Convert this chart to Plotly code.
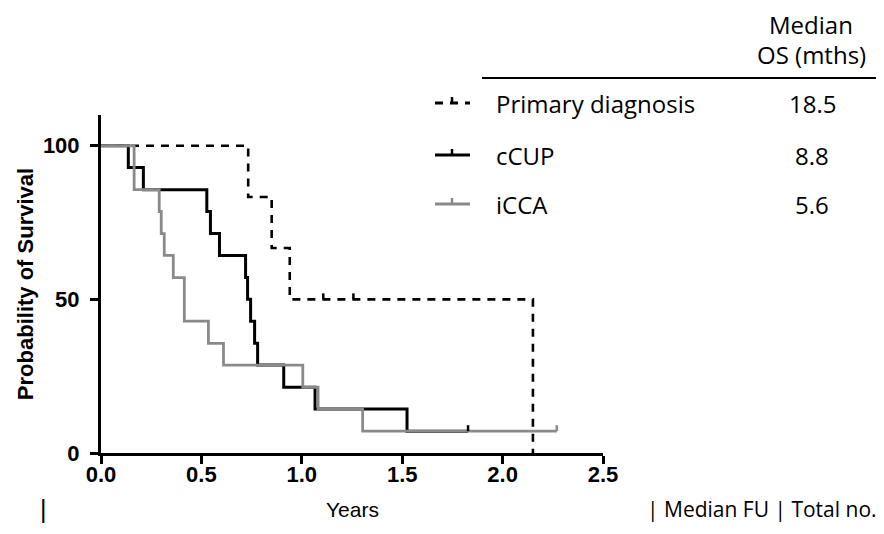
import plotly.graph_objects as go

# ---- data ----
years_ticks = [0.0, 0.5, 1.0, 1.5, 2.0, 2.5]
surv_ticks = [0, 50, 100]

primary_times = [0.0, 0.733, 0.85, 0.94, 2.151]
primary_surv = [100, 83.3, 66.7, 50.0, 0.0]
primary_censor_t = [1.107, 1.257]
primary_censor_s = [50.0, 50.0]

ccup_times = [0.0, 0.136, 0.211, 0.527, 0.545, 0.59, 0.72, 0.73, 0.745, 0.765, 0.78, 0.91, 1.066, 1.524, 1.828]
ccup_surv = [100, 92.9, 85.7, 78.6, 71.4, 64.3, 57.1, 50.0, 42.9, 35.7, 28.6, 21.4, 14.3, 7.1, 7.1]
ccup_censor_t = [1.828]
ccup_censor_s = [7.1]

icca_times = [0.0, 0.165, 0.29, 0.30, 0.315, 0.36, 0.415, 0.535, 0.61, 1.005, 1.081, 1.303, 2.27]
icca_surv = [100, 85.7, 78.6, 71.4, 64.3, 57.1, 42.9, 35.7, 28.6, 21.4, 14.3, 7.1, 7.1]
icca_censor_t = [2.27]
icca_censor_s = [7.1]

group_names = ["Primary diagnosis", "cCUP", "iCCA"]
median_os = ["18.5", "8.8", "5.6"]

BLACK = "#000000"
GREY = "#8a8a8a"
DASH = "8px,7px"

# page offset (default body margin) compensated
OFF = 8
# plot-area pixel geometry in page coordinates of the reference
L, R, T, B = 101, 603, 115, 453
W, H = 884 - OFF, 534 - OFF


def px(x):
    return (x - L) / (R - L)


def py(y):
    return (B - y) / (B - T)


fig = go.Figure()

fig.add_trace(go.Scatter(x=primary_times, y=primary_surv, mode="lines", line_shape="hv",
                         line=dict(color=BLACK, width=2.6, dash=DASH), name=group_names[0]))
fig.add_trace(go.Scatter(x=ccup_times, y=ccup_surv, mode="lines", line_shape="hv",
                         line=dict(color=BLACK, width=3), name=group_names[1]))
fig.add_trace(go.Scatter(x=icca_times, y=icca_surv, mode="lines", line_shape="hv",
                         line=dict(color=GREY, width=2.8), name=group_names[2]))

shapes = []
for ts, ss, col in [(primary_censor_t, primary_censor_s, BLACK),
                    (ccup_censor_t, ccup_censor_s, BLACK),
                    (icca_censor_t, icca_censor_s, GREY)]:
    for t, s in zip(ts, ss):
        shapes.append(dict(type="line", xref="x", yref="y", x0=t, x1=t,
                           ysizemode="pixel", yanchor=s, y0=0, y1=6,
                           line=dict(color=col, width=2.5)))

# legend/table header line
shapes.append(dict(type="line", xref="paper", yref="paper", x0=px(482), x1=px(884),
                   y0=py(78), y1=py(78), line=dict(color=BLACK, width=2)))

# legend symbols
row_y = [103, 155, 204]
sym_cols = [BLACK, BLACK, GREY]
sym_dash = [DASH, "solid", "solid"]
for yy, col, d in zip(row_y, sym_cols, sym_dash):
    shapes.append(dict(type="line", xref="paper", yref="paper", x0=px(435), x1=px(470),
                       y0=py(yy), y1=py(yy), line=dict(color=col, width=3 if col == BLACK else 2.8, dash=d)))
    shapes.append(dict(type="line", xref="paper", yref="paper", x0=px(452), x1=px(452),
                       y0=py(yy), y1=py(yy - 6), line=dict(color=col, width=2.5)))

TXT = "Open Sans"
FS = 24
annotations = []
annotations.append(dict(xref="paper", yref="paper", x=px(811), y=py(24), text="Median",
                        showarrow=False, xanchor="center", yanchor="middle",
                        font=dict(family=TXT, size=FS, color=BLACK)))
annotations.append(dict(xref="paper", yref="paper", x=px(811), y=py(55), text="OS (mths)",
                        showarrow=False, xanchor="center", yanchor="middle",
                        font=dict(family=TXT, size=FS, color=BLACK)))
for yy, name, med in zip(row_y, group_names, median_os):
    annotations.append(dict(xref="paper", yref="paper", x=px(494), y=py(yy), text=name,
                            showarrow=False, xanchor="left", yanchor="middle",
                            font=dict(family=TXT, size=FS, color=BLACK)))
    annotations.append(dict(xref="paper", yref="paper", x=px(812), y=py(yy), text=med,
                            showarrow=False, xanchor="center", yanchor="middle",
                            font=dict(family=TXT, size=FS, color=BLACK)))

annotations.append(dict(xref="paper", yref="paper", x=px(352), y=py(509), text="Years",
                        showarrow=False, xanchor="center", yanchor="middle",
                        font=dict(family="Liberation Sans", size=21, color=BLACK)))
annotations.append(dict(xref="paper", yref="paper", x=px(38), y=py(509), text="|",
                        showarrow=False, xanchor="left", yanchor="middle",
                        font=dict(family="Liberation Sans", size=25, color=BLACK)))
annotations.append(dict(xref="paper", yref="paper", x=px(645), y=py(509), text="| Median FU | Total no.",
                        showarrow=False, xanchor="left", yanchor="middle",
                        font=dict(family=TXT, size=21, color=BLACK)))

fig.update_layout(
    width=W, height=H,
    margin=dict(l=L - OFF, r=884 - R, t=T - OFF, b=534 - B, pad=0),
    paper_bgcolor="white", plot_bgcolor="white",
    showlegend=False,
    shapes=shapes, annotations=annotations,
    xaxis=dict(range=[0, 2.5], tickvals=years_ticks, ticktext=[f"{v:.1f}" for v in years_ticks],
               showline=True, linecolor=BLACK, linewidth=3, ticks="outside", ticklen=8, tickwidth=3,
               tickcolor=BLACK, showgrid=False, zeroline=False, ticklabelstandoff=-8,
               tickfont=dict(family="Liberation Sans", size=22, color=BLACK, weight="bold")),
    yaxis=dict(range=[0, 110], tickvals=surv_ticks,
               showline=True, linecolor=BLACK, linewidth=3, ticks="outside", ticklen=8, tickwidth=3,
               tickcolor=BLACK, showgrid=False, zeroline=False, ticklabelstandoff=6,
               title=dict(text="Probability of Survival", standoff=4,
                          font=dict(family="Liberation Sans", size=22, color=BLACK, weight="bold")),
               tickfont=dict(family="Liberation Sans", size=22, color=BLACK, weight="bold")),
)

fig.write_html("out.html")
